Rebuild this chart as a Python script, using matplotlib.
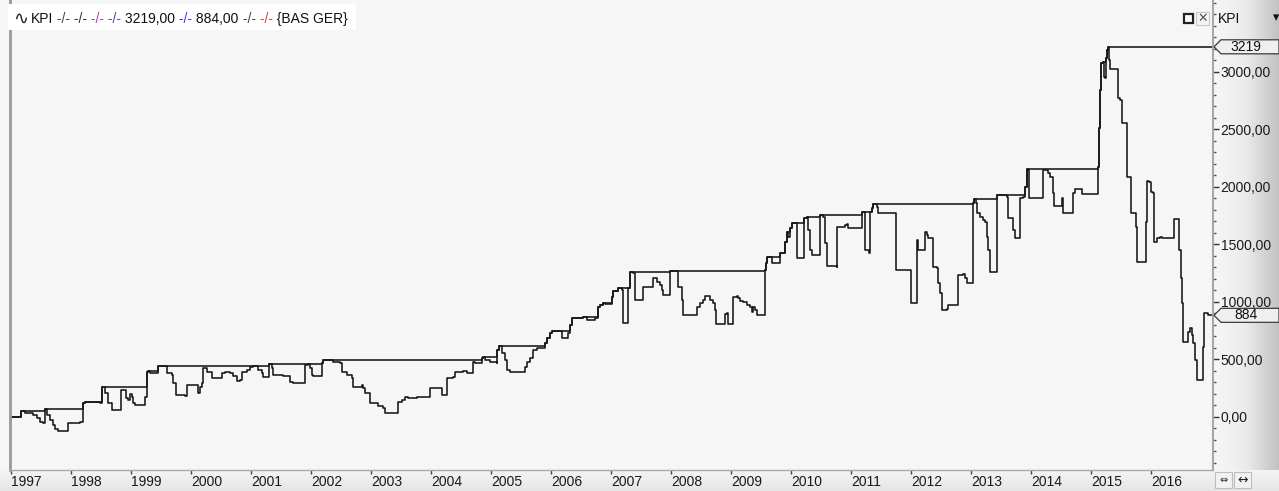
import numpy as np
import matplotlib
matplotlib.use("Agg")
import matplotlib.pyplot as plt
from matplotlib.patches import Polygon, Rectangle
from matplotlib.colors import LinearSegmentedColormap
from matplotlib.ticker import MultipleLocator, FixedLocator
from matplotlib.transforms import IdentityTransform

# ---------------- data (decimal year, equity value) ----------------
t = [1997.012, 1997.150, 1997.167, 1997.233, 1997.372, 1997.428, 1997.483, 1997.538, 1997.567, 1997.595,
     1997.650, 1997.705, 1997.733, 1997.788, 1997.928, 1997.955, 1998.038, 1998.150, 1998.195, 1998.205,
     1998.233, 1998.483, 1998.512, 1998.538, 1998.567, 1998.622, 1998.678, 1998.817, 1998.828, 1998.900,
     1998.917, 1998.955, 1998.983, 1999.012, 1999.038, 1999.067, 1999.205, 1999.233, 1999.262, 1999.288,
     1999.317, 1999.428, 1999.455, 1999.567, 1999.595, 1999.678, 1999.705, 1999.750, 1999.900, 1999.928,
     2000.095, 2000.122, 2000.150, 2000.178, 2000.205, 2000.262, 2000.345, 2000.483, 2000.512, 2000.567,
     2000.650, 2000.705, 2000.762, 2000.817, 2000.845, 2000.928, 2000.983, 2001.038, 2001.095, 2001.122,
     2001.178, 2001.205, 2001.288, 2001.305, 2001.345, 2001.372, 2001.483, 2001.538, 2001.622, 2001.650,
     2001.705, 2001.872, 2001.900, 2001.955, 2001.983, 2002.012, 2002.038, 2002.150, 2002.178, 2002.195,
     2002.372, 2002.483, 2002.512, 2002.595, 2002.678, 2002.705, 2002.788, 2002.845, 2002.872, 2002.900,
     2002.955, 2002.983, 2003.067, 2003.122, 2003.205, 2003.233, 2003.428, 2003.455, 2003.512, 2003.567,
     2003.622, 2003.762, 2003.955, 2003.983, 2004.150, 2004.178, 2004.233, 2004.262, 2004.372, 2004.400,
     2004.538, 2004.595, 2004.678, 2004.695, 2004.733, 2004.788, 2004.845, 2004.872, 2004.900, 2004.983,
     2005.095, 2005.105, 2005.138, 2005.178, 2005.233, 2005.262, 2005.317, 2005.538, 2005.567, 2005.595,
     2005.650, 2005.705, 2005.762, 2005.872, 2005.900, 2005.928, 2005.983, 2006.012, 2006.150, 2006.178,
     2006.262, 2006.288, 2006.317, 2006.345, 2006.538, 2006.595, 2006.678, 2006.733, 2006.788, 2006.817,
     2006.872, 2006.900, 2006.983, 2007.012, 2007.038, 2007.095, 2007.122, 2007.178, 2007.195, 2007.262,
     2007.288, 2007.317, 2007.372, 2007.400, 2007.512, 2007.538, 2007.678, 2007.705, 2007.762, 2007.817,
     2007.845, 2007.872, 2007.955, 2007.983, 2008.095, 2008.122, 2008.178, 2008.205, 2008.400, 2008.428,
     2008.483, 2008.538, 2008.567, 2008.622, 2008.650, 2008.705, 2008.733, 2008.750, 2008.872, 2008.900,
     2008.928, 2008.955, 2009.012, 2009.038, 2009.095, 2009.122, 2009.150, 2009.205, 2009.262, 2009.317,
     2009.345, 2009.372, 2009.400, 2009.428, 2009.538, 2009.567, 2009.578, 2009.595, 2009.650, 2009.678,
     2009.788, 2009.817, 2009.872, 2009.900, 2009.928, 2009.955, 2009.983, 2010.012, 2010.067, 2010.095,
     2010.205, 2010.217, 2010.262, 2010.288, 2010.317, 2010.345, 2010.455, 2010.483, 2010.538, 2010.567,
     2010.595, 2010.762, 2010.772, 2010.872, 2010.900, 2010.928, 2010.955, 2011.150, 2011.178, 2011.205,
     2011.233, 2011.305, 2011.317, 2011.345, 2011.372, 2011.428, 2011.455, 2011.733, 2011.750, 2011.983,
     2011.995, 2012.083, 2012.095, 2012.122, 2012.205, 2012.233, 2012.262, 2012.288, 2012.345, 2012.372,
     2012.428, 2012.455, 2012.483, 2012.512, 2012.595, 2012.622, 2012.762, 2012.788, 2012.872, 2012.900,
     2012.928, 2013.012, 2013.028, 2013.050, 2013.083, 2013.105, 2013.150, 2013.205, 2013.233, 2013.262,
     2013.288, 2013.317, 2013.400, 2013.428, 2013.438, 2013.567, 2013.595, 2013.622, 2013.678, 2013.705,
     2013.733, 2013.788, 2013.817, 2013.872, 2013.900, 2013.928, 2013.955, 2013.972, 2014.178, 2014.205,
     2014.262, 2014.288, 2014.317, 2014.372, 2014.383, 2014.483, 2014.512, 2014.538, 2014.678, 2014.705,
     2014.733, 2014.817, 2014.845, 2015.095, 2015.122, 2015.138, 2015.150, 2015.162, 2015.205, 2015.217,
     2015.233, 2015.250, 2015.262, 2015.288, 2015.305, 2015.317, 2015.428, 2015.455, 2015.483, 2015.512,
     2015.567, 2015.595, 2015.638, 2015.662, 2015.717, 2015.750, 2015.772, 2015.900, 2015.917, 2015.938,
     2015.972, 2015.995, 2016.028, 2016.050, 2016.095, 2016.150, 2016.178, 2016.372, 2016.383, 2016.445,
     2016.467, 2016.495, 2016.512, 2016.538, 2016.595, 2016.622, 2016.650, 2016.678, 2016.705, 2016.733,
     2016.762, 2016.845, 2016.862, 2016.883, 2016.928, 2016.955, 2017.012]

equity = [0, 0, 55, 37, 17, -11, -41, -49, 67, 17,
          -26, -70, -107, -119, -119, -55, -49, -41, 75, 119,
          133, 125, 264, 264, 206, 119, 61, 61, 235, 235,
          162, 148, 200, 177, 119, 104, 104, 177, 394, 403,
          380, 380, 443, 443, 380, 365, 293, 191, 183, 278,
          278, 206, 264, 293, 423, 394, 336, 336, 380, 394,
          380, 357, 316, 322, 394, 409, 438, 443, 443, 409,
          380, 351, 351, 461, 423, 365, 365, 357, 357, 307,
          293, 293, 455, 460, 423, 365, 357, 357, 467, 496,
          481, 467, 394, 365, 336, 264, 264, 278, 249, 212,
          206, 125, 119, 96, 75, 38, 38, 133, 148, 171,
          162, 171, 171, 249, 249, 191, 191, 336, 351, 394,
          403, 386, 386, 481, 472, 472, 510, 525, 496, 481,
          472, 583, 617, 554, 496, 409, 394, 394, 438, 481,
          510, 583, 597, 597, 641, 684, 728, 751, 751, 684,
          684, 728, 800, 858, 867, 843, 843, 858, 959, 974,
          988, 983, 983, 1046, 1098, 1098, 1119, 1104, 820, 820,
          1119, 1264, 1255, 1017, 1017, 1133, 1133, 1206, 1177, 1148,
          1104, 1061, 1061, 1272, 1272, 1133, 1017, 887, 887, 959,
          988, 1017, 1052, 1052, 1017, 988, 930, 809, 809, 896,
          903, 809, 809, 1046, 1052, 1032, 1012, 1003, 974, 959,
          916, 959, 930, 887, 887, 1278, 1336, 1394, 1394, 1336,
          1336, 1423, 1423, 1525, 1612, 1568, 1641, 1684, 1684, 1380,
          1380, 1728, 1742, 1626, 1452, 1409, 1409, 1757, 1742, 1510,
          1313, 1307, 1649, 1649, 1670, 1678, 1641, 1641, 1786, 1786,
          1452, 1429, 1786, 1815, 1852, 1829, 1771, 1771, 1278, 1278,
          988, 988, 1539, 1452, 1452, 1612, 1583, 1554, 1554, 1301,
          1293, 1163, 1075, 930, 936, 974, 974, 1235, 1244, 1206,
          1163, 1163, 1858, 1893, 1858, 1771, 1742, 1713, 1699, 1568,
          1452, 1264, 1264, 1916, 1934, 1934, 1916, 1728, 1728, 1626,
          1554, 1554, 1902, 1916, 2003, 2154, 2148, 1902, 1902, 2148,
          2148, 2119, 2090, 1945, 1835, 1835, 1902, 1777, 1777, 1945,
          1979, 1979, 1939, 1939, 2177, 2510, 2844, 3075, 3090, 2959,
          2945, 3119, 3191, 3219, 3102, 3023, 3023, 2771, 2757, 2554,
          2554, 2090, 2090, 1777, 1777, 1655, 1351, 1351, 1699, 2055,
          2046, 1959, 1951, 1525, 1554, 1568, 1554, 1554, 1719, 1719,
          1452, 1206, 988, 655, 655, 742, 771, 713, 641, 496,
          322, 322, 611, 907, 907, 884, 884]

year_ticks = list(range(1997, 2017))
value_ticks = [0, 500, 1000, 1500, 2000, 2500, 3000]
title_parts = ["KPI", " -/-", " -/-", " -/-", " -/-", " 3219,00", " -/-", " 884,00", " -/-", " -/-", " {BAS GER}"]
title_colors = ["#111111", "#444444", "#333333", "#b040b0", "#6a3a90", "#111111", "#3a3aff", "#111111",
                "#444444", "#c05040", "#111111"]

W, H = 1279, 491
FONT = "Liberation Sans"
plt.rcParams["font.family"] = [FONT, "DejaVu Sans"]

fig = plt.figure(figsize=(W / 100, H / 100), dpi=100)
fig.patch.set_facecolor("#f6f6f6")

L, R, B = 10 / W, 1213 / W, 21 / H
ax = fig.add_axes([L, B, R - L, 1 - B])
ax.set_zorder(3)
ax.set_facecolor("#f6f6f6")

# right value strip (gradient)
ax_s = fig.add_axes([R, B, 1 - R, 1 - B])
ax_s.set_zorder(1)
cm_h = LinearSegmentedColormap.from_list("g", ["#f7f7f7", "#ebebeb", "#c2c2c2"])
ax_s.imshow(np.linspace(0, 1, 256).reshape(1, -1), cmap=cm_h, aspect="auto", extent=[0, 1, 0, 1])
ax_s.set_xlim(0, 1); ax_s.set_ylim(0, 1)
ax_s.axis("off")

# bottom time strip
ax_b = fig.add_axes([0, 0, 1, B])
ax_b.set_zorder(0)
cm_v = LinearSegmentedColormap.from_list("v", ["#e6e6e6", "#f4f4f4"])
ax_b.imshow(np.linspace(0, 1, 64).reshape(-1, 1), cmap=cm_v, aspect="auto", extent=[0, 1, 0, 1], origin="lower")
ax_b.set_xlim(0, 1); ax_b.set_ylim(0, 1)
ax_b.axis("off")

# ---------------- lines ----------------
eq = np.array(equity, dtype=float)
tt = np.array(t, dtype=float)
peak = np.maximum.accumulate(eq)

xmin, xmax = 1996.983, 2017.033
ax.set_xlim(xmin, xmax)
ax.set_ylim(-461, 3626)

ax.plot(np.append(tt, xmax), np.append(peak, peak[-1]), drawstyle="steps-post", color="#161616", lw=1.15)
ax.plot(tt, eq, drawstyle="steps-post", color="#161616", lw=1.15)

# ---------------- axes styling ----------------
ax.spines["top"].set_visible(False)
ax.spines["left"].set_color("#9a9a9a"); ax.spines["left"].set_linewidth(2.0)
ax.spines["bottom"].set_color("#a8a8a8"); ax.spines["bottom"].set_linewidth(1.0)
ax.spines["right"].set_color("#a8a8a8"); ax.spines["right"].set_linewidth(1.5)

ax.yaxis.tick_right()
ax.yaxis.set_major_locator(FixedLocator(value_ticks))
ax.yaxis.set_minor_locator(MultipleLocator(100))
ax.set_yticklabels([f"{v:.2f}".replace(".", ",") for v in value_ticks])
ax.tick_params(axis="y", which="major", direction="out", length=4, width=1.0, color="#333333",
               pad=1.5, labelsize=10, labelcolor="#1a1a1a")
ax.tick_params(axis="y", which="minor", direction="out", length=2, width=1.0, color="#555555")

ax.set_xticks(year_ticks)
ax.set_xticklabels([str(y) for y in year_ticks], ha="left")
ax.tick_params(axis="x", which="major", direction="out", length=3, width=1.0, color="#444444",
               pad=0.5, labelsize=10, labelcolor="#1a1a1a")

# ---------------- title ----------------
fig.add_artist(Rectangle((8, H - 30), 348, 26, transform=IdentityTransform(), facecolor="white",
                         edgecolor="none", zorder=5))
fig.text(13 / W, 1 - 24 / H, "\u223f", fontsize=13, family="DejaVu Sans", va="baseline", color="#222222",
         zorder=6)
renderer = fig.canvas.get_renderer()
xpix = 31
for part, col in zip(title_parts, title_colors):
    tx = fig.text(xpix / W, 1 - 23 / H, part, fontsize=10, va="baseline", ha="left", color=col, zorder=6)
    xpix += tx.get_window_extent(renderer).width

# top right decorations
fig.add_artist(Rectangle((1184, H - 23), 9, 9, transform=IdentityTransform(), facecolor="white",
                         edgecolor="#222222", lw=1.6, zorder=6))
fig.add_artist(Rectangle((1196, H - 25), 13, 13, transform=IdentityTransform(), facecolor="#f4f4f4",
                         edgecolor="#c8c8c8", lw=0.8, zorder=6))
fig.text(1202.5 / W, 1 - 18.5 / H, "\u2715", fontsize=9, family="DejaVu Sans", ha="center", va="center",
         color="#555555", zorder=7)
fig.text(1218 / W, 1 - 19 / H, "KPI", fontsize=10, va="center", color="#111111", zorder=6)
fig.text(1273 / W, 1 - 18 / H, "\u25be", fontsize=9, family="DejaVu Sans", va="center", color="#111111",
         zorder=6)

# bottom right buttons
for bx in (1215, 1234):
    fig.add_artist(Rectangle((bx, 3), 17, 16, transform=IdentityTransform(), facecolor="#f2f2f2",
                             edgecolor="#bdbdbd", lw=0.8, zorder=6))
fig.text(1223.5 / W, 11 / H, "\u21d4", fontsize=7, family="DejaVu Sans", ha="center", va="center",
         color="#222222", zorder=7)
fig.text(1242.5 / W, 11 / H, "\u2194", fontsize=9, family="DejaVu Sans", ha="center", va="center",
         color="#222222", zorder=7)

# ---------------- value markers (max, last) ----------------
for val, label in ((peak[-1], f"{peak[-1]:.0f}"), (eq[-1], f"{eq[-1]:.0f}")):
    ydisp = ax.transData.transform((xmax, val))[1]
    x0 = ax.transAxes.transform((1, 0))[0]
    poly = Polygon([(x0 + 1, ydisp), (x0 + 8, ydisp + 7), (W, ydisp + 7), (W, ydisp - 7), (x0 + 8, ydisp - 7)],
                   closed=True, transform=IdentityTransform(), facecolor="#efefef", edgecolor="#3a3a3a",
                   lw=0.9, zorder=8)
    fig.add_artist(poly)
    fig.text((x0 + 33) / W, ydisp / H, label, fontsize=10, ha="center", va="center", color="#111111",
             zorder=9)

fig.savefig("out.png", dpi=100, facecolor=fig.get_facecolor())
